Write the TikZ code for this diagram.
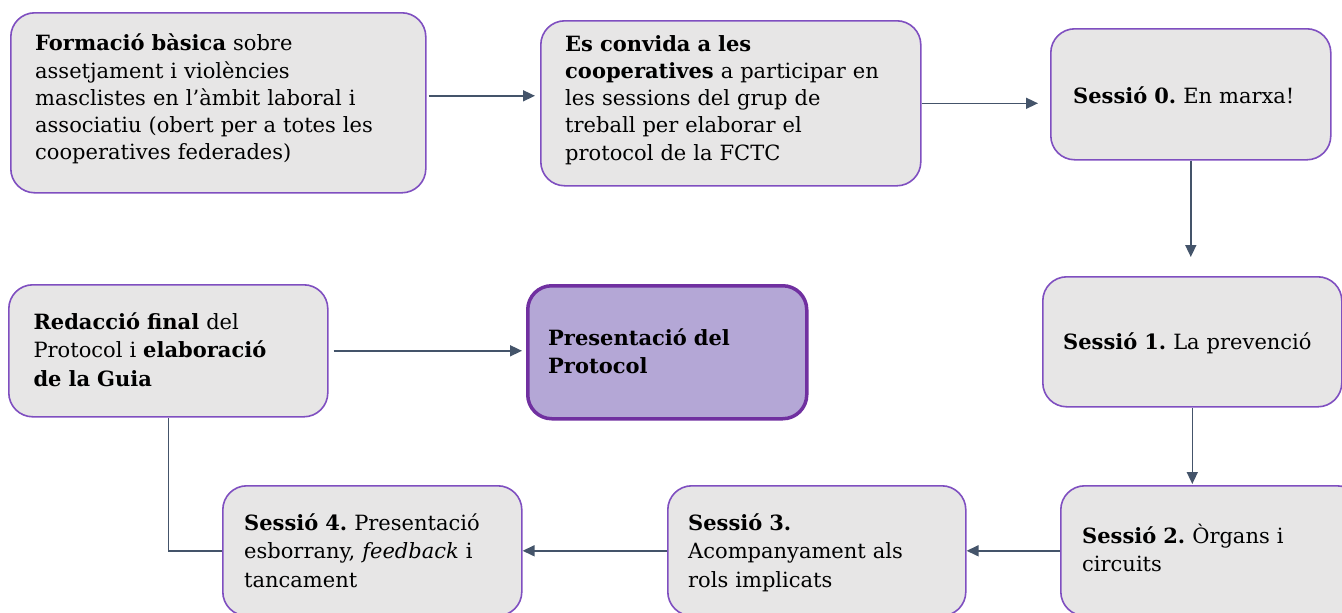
\documentclass[tikz,border=0pt]{standalone}
\usepackage{fontspec}
\setmainfont{DejaVu Serif}
\frenchspacing
\usetikzlibrary{arrows.meta}
\definecolor{boxfill}{HTML}{E7E6E6}
\definecolor{boxline}{HTML}{7F4FC0}
\definecolor{hifill}{HTML}{B4A7D6}
\definecolor{hiline}{HTML}{7030A0}
\definecolor{arrcol}{HTML}{44546A}
\tikzset{
  stepbox/.style={draw=boxline, line width=1.6pt, fill=boxfill, rounded corners=24pt,
    anchor=north west, inner sep=0pt},
  hibox/.style={stepbox, draw=hiline, fill=hifill, line width=3.5pt},
  txt/.style={anchor=base west, inner sep=0pt, align=left, text width=420pt,
    font=\fontsize{21pt}{28.5pt}\selectfont},
  txta/.style={txt, font=\fontsize{21pt}{27.3pt}\selectfont},
  arr/.style={draw=arrcol, line width=1.6pt, -{Triangle[length=12pt,width=11pt]}},
  lnk/.style={draw=arrcol, line width=1.6pt}
}
\begin{document}
\begin{tikzpicture}[x=1pt,y=-1pt]
\useasboundingbox (0,0) rectangle (1342,613);
% boxes
\node[stepbox, minimum width=415pt, minimum height=180pt] (A) at (10,12) {};
\node[stepbox, minimum width=380pt, minimum height=165pt] (B) at (540,20) {};
\node[stepbox, minimum width=280pt, minimum height=131pt] (C) at (1050,28) {};
\node[stepbox, minimum width=299pt, minimum height=130pt] (D) at (1042,276) {};
\node[stepbox, minimum width=300pt, minimum height=130pt] (E) at (1060,485) {};
\node[stepbox, minimum width=298pt, minimum height=130pt] (F) at (667,485) {};
\node[stepbox, minimum width=299pt, minimum height=130pt] (G) at (222,485) {};
\node[stepbox, minimum width=319pt, minimum height=132pt] (H) at (8,284) {};
\node[hibox, minimum width=279pt, minimum height=133pt] (I) at (526,284) {};
% texts
\node[txta] (tA) at (35,50.7) {\textbf{Formació bàsica} sobre\\assetjament i violències\\masclistes en l’àmbit laboral i\\associatiu (obert per a totes les\\cooperatives federades)};
\node[txta] (tB) at (565,51) {\textbf{Es convida a les}\\\textbf{cooperatives} a participar en\\les sessions del grup de\\treball per elaborar el\\protocol de la FCTC};
\node[txt] (tC) at (1073,103.3) {\textbf{Sessió 0.} En marxa!};
\node[txt] (tD) at (1063,349.3) {\textbf{Sessió 1.} La prevenció};
\node[txt] (tE) at (1082,543) {\textbf{Sessió 2.} Òrgans i\\circuits};
\node[txt] (tF) at (688,530) {\textbf{Sessió 3.}\\Acompanyament als\\rols implicats};
\node[txt] (tG) at (244,530) {\textbf{Sessió 4.} Presentació\\esborrany, \textit{feedback} i\\tancament};
\node[txt] (tH) at (33.3,329.3) {\textbf{Redacció final} del\\Protocol i \textbf{elaboració}\\\textbf{de la Guia}};
\node[txt] (tI) at (548,345) {\textbf{Presentació del}\\\textbf{Protocol}};
% connectors
\draw[arr, shorten <=2pt, shorten >=5pt] ([yshift=7pt]A.east) -- ([yshift=7pt]A.east -| B.west);
\draw[arr, shorten >=12pt] (B.east) -- (B.east -| C.west);
\draw[arr, shorten >=19pt] (C.south) -- (C.south |- D.north);
\draw[arr, shorten >=1pt] (D.south) -- (D.south |- E.north);
\draw[arr] (E.west) -- (E.west -| F.east);
\draw[arr] (F.west) -- (F.west -| G.east);
\draw[lnk] (G.west) -| (H.south);
\draw[arr, shorten <=5pt, shorten >=4pt] (H.east) -- (H.east -| I.west);
\end{tikzpicture}
\end{document}
